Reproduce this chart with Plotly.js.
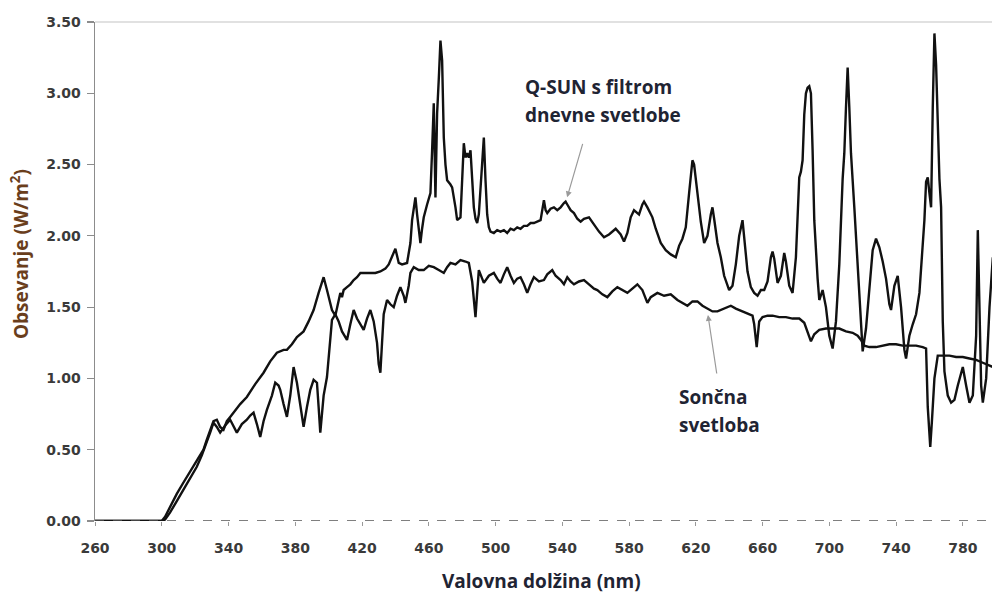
<!DOCTYPE html>
<html>
<head>
<meta charset="utf-8">
<script src="https://cdn.plot.ly/plotly-3.0.1.min.js"></script>
<style>html,body{margin:0;padding:0;background:#fff;}#chart{width:992px;height:602px;}</style>
</head>
<body>
<div id="chart"></div>
<script>
// Sunlight (Sončna svetloba)
var sunX = [260,280,298,300,302,305,309,313,315,318,321,324,327,329,331,333,335,338,341,343,345,348,351,353,355,357,359,361,363,366,368,370,371,373,375,377,379,381,382,384,385,387,389,391,393,394,395,396,397,399,401,402,404,406,408,411,413,415,417,419,421,423,425,427,429,430,431,432,433,435,437,439,441,443,445,446,448,449,451,454,457,460,463,466,469,471,473,476,479,482,484,486,487,488,489,490,492,493,496,499,501,503,505,507,509,511,513,515,517,519,521,523,526,529,531,534,536,539,541,543,545,547,550,553,556,559,561,564,567,570,573,576,579,582,585,588,591,593,597,601,605,609,612,615,618,621,624,627,630,633,637,641,644,648,651,654,655,656.5,658,660,663,666,670,674,678,682,685,687,689,691,694,698,702,706,710,714,717,719,721,724,728,732,736,740,744,748,752,756,758,759,760,760.5,761.5,763,765,768,772,776,780,784,788,792,796,798];
var sunY = [0,0,0,0,0.01,0.06,0.14,0.22,0.27,0.33,0.38,0.46,0.55,0.62,0.69,0.66,0.62,0.67,0.71,0.66,0.62,0.68,0.71,0.74,0.76,0.68,0.59,0.70,0.78,0.88,0.97,0.95,0.92,0.82,0.73,0.88,1.08,0.97,0.90,0.75,0.66,0.80,0.92,0.99,0.97,0.80,0.62,0.75,0.88,1.01,1.25,1.41,1.45,1.40,1.33,1.27,1.38,1.48,1.42,1.38,1.34,1.42,1.48,1.40,1.25,1.10,1.04,1.25,1.45,1.55,1.52,1.50,1.58,1.64,1.58,1.53,1.65,1.74,1.78,1.76,1.76,1.79,1.78,1.76,1.74,1.78,1.81,1.80,1.83,1.82,1.81,1.68,1.55,1.43,1.60,1.76,1.70,1.67,1.72,1.74,1.70,1.67,1.73,1.78,1.72,1.67,1.70,1.71,1.66,1.60,1.66,1.71,1.68,1.69,1.73,1.76,1.72,1.69,1.66,1.71,1.68,1.66,1.68,1.69,1.66,1.63,1.62,1.59,1.57,1.61,1.64,1.62,1.60,1.63,1.66,1.62,1.53,1.57,1.60,1.58,1.59,1.55,1.53,1.51,1.54,1.54,1.51,1.49,1.47,1.47,1.49,1.51,1.49,1.47,1.45,1.44,1.38,1.22,1.40,1.43,1.44,1.44,1.43,1.43,1.42,1.42,1.39,1.32,1.26,1.31,1.34,1.35,1.35,1.35,1.33,1.32,1.30,1.27,1.23,1.22,1.22,1.23,1.24,1.24,1.23,1.23,1.23,1.22,1.21,0.80,0.55,0.52,0.70,1.00,1.16,1.16,1.16,1.15,1.15,1.14,1.13,1.11,1.09,1.08];

// Q-SUN with daylight filter (Q-SUN s filtrom dnevne svetlobe)
var qsunX = [260,280,298,300,302,305,309,313,316,319,322,325,327,329,331,333,335,337,339,341,343,347,351,356,361,365,369,373,375,378,381,385,388,391,394,397,399,401,402,404,405,407,408,409,411,413,415,417,419,422,425,428,431,434,436,438,440,442,444,447,449,450,452,453,454,455,456,457,459,461,462,463,464,465,466,467,468,469,470,471,473,474,476,477,479,480,481,482,483,484,485,486,487,488,489,490,491,492,493,494,495,496,497,499,501,503,505,507,509,511,513,515,517,519,521,523,525,527,528,529,530,531,533,535,537,539,541,542,543,545,547,549,551,553,556,559,562,565,568,572,575,577,579,581,583,585,586,588,589,591,594,596,599,602,605,608,610,612,614,616,618,619,621,623,625,627,629,630,631,633,635,637,640,642,644,646,648,649,651,653,655,657,659,661,663,665,666,667,669,671,673,674,676,678,680,682,683,684,685,686,687,688,689,690,691,693,694,696,698,700,702,704,706,708,709,710,711,712,713,715,716,718,720,722,724,726,728,730,732,734,736,737,739,741,743,745,746,748,750,752,754,756,757,758,759,760,761,762,763,764,765,766,767,768,769,771,773,775,777,779,780,782,784,786,788,789,790,791,792,794,796,798];
var qsunY = [0,0,0,0,0.03,0.10,0.19,0.27,0.33,0.38,0.44,0.50,0.57,0.64,0.70,0.71,0.66,0.64,0.70,0.73,0.76,0.82,0.87,0.96,1.04,1.12,1.18,1.20,1.20,1.24,1.29,1.33,1.40,1.48,1.60,1.71,1.62,1.52,1.48,1.44,1.50,1.60,1.57,1.62,1.64,1.66,1.69,1.71,1.74,1.74,1.74,1.74,1.75,1.77,1.80,1.86,1.91,1.81,1.80,1.81,1.95,2.11,2.27,2.15,2.06,1.95,2.05,2.13,2.22,2.30,2.60,2.93,2.27,2.86,3.10,3.37,3.23,2.69,2.50,2.39,2.36,2.34,2.20,2.11,2.13,2.40,2.65,2.55,2.58,2.55,2.60,2.40,2.20,2.12,2.09,2.15,2.34,2.55,2.69,2.39,2.15,2.06,2.03,2.02,2.04,2.03,2.04,2.02,2.05,2.04,2.06,2.05,2.07,2.07,2.09,2.09,2.10,2.11,2.18,2.25,2.18,2.16,2.19,2.20,2.18,2.20,2.23,2.24,2.22,2.18,2.16,2.12,2.10,2.12,2.13,2.08,2.03,1.99,2.01,2.05,2.01,1.96,2.02,2.13,2.18,2.16,2.15,2.22,2.24,2.20,2.13,2.05,1.95,1.90,1.87,1.85,1.93,1.98,2.06,2.30,2.53,2.50,2.30,2.10,1.95,2.00,2.15,2.20,2.12,1.95,1.85,1.72,1.62,1.65,1.80,2.00,2.11,2.00,1.75,1.64,1.60,1.58,1.62,1.62,1.68,1.85,1.89,1.84,1.67,1.72,1.88,1.82,1.65,1.60,1.85,2.41,2.45,2.53,2.85,3.00,3.04,3.05,3.00,2.60,2.11,1.70,1.55,1.62,1.50,1.30,1.21,1.40,1.80,2.40,2.58,2.90,3.18,2.90,2.58,2.20,1.99,1.55,1.19,1.35,1.64,1.90,1.98,1.92,1.82,1.70,1.52,1.48,1.65,1.72,1.50,1.20,1.14,1.30,1.38,1.45,1.60,1.90,2.11,2.38,2.41,2.30,2.20,2.90,3.42,3.20,2.76,2.40,2.20,1.40,1.05,0.88,0.83,0.85,0.95,1.05,1.08,0.95,0.83,0.88,1.30,2.04,1.50,0.95,0.83,1.00,1.50,1.85];

var xTickVals = [260,300,340,380,420,460,500,540,580,620,660,700,740,780];
var yTickVals = [0,0.5,1,1.5,2,2.5,3,3.5];
var yTickText = ['0.00','0.50','1.00','1.50','2.00','2.50','3.00','3.50'];
var xTitle = 'Valovna dolžina (nm)';
var yTitle = 'Obsevanje (W/m<sup>2</sup>)';
var qsunLabel = ['Q-SUN s filtrom', 'dnevne svetlobe'];
var sunLabel = ['Sončna', 'svetloba'];

var lineStyle = {color: '#111111', width: 2.4};
var traces = [
  {x: sunX, y: sunY, mode: 'lines', line: lineStyle, name: 'Sončna svetloba', hoverinfo: 'x+y'},
  {x: qsunX, y: qsunY, mode: 'lines', line: lineStyle, name: 'Q-SUN', hoverinfo: 'x+y'}
];

var tickFont = {family: 'DejaVu Sans', size: 14, color: '#3a3a3a', weight: 'bold'};
var txtFont = {family: 'Open Sans', size: 19, color: '#1f2433', weight: 'bold'};

var layout = {
  width: 992, height: 602,
  margin: {l: 95, r: 0, t: 22, b: 81, pad: 0},
  paper_bgcolor: '#ffffff', plot_bgcolor: '#ffffff',
  showlegend: false,
  xaxis: {
    range: [260, 797.5], tickvals: xTickVals, ticks: 'outside', ticklen: 4, tickcolor: '#999999', tickwidth: 1,
    showgrid: false, zeroline: false, showline: false, tickfont: tickFont, ticklabelstandoff: 10, fixedrange: true
  },
  yaxis: {
    range: [0, 3.5], tickvals: yTickVals, ticktext: yTickText, ticks: 'outside', ticklen: 7, tickcolor: '#8c8c8c', tickwidth: 1.2,
    showgrid: false, zeroline: false, showline: true, linecolor: '#8c8c8c', linewidth: 1.5, tickfont: tickFont, ticklabelstandoff: 3, fixedrange: true
  },
  shapes: [
    {type: 'line', xref: 'paper', yref: 'paper', x0: 0, x1: 1, y0: 1, y1: 1, line: {color: '#c4c4c4', width: 1.2}},
    {type: 'line', xref: 'paper', yref: 'y', x0: 0, x1: 1, y0: 0, y1: 0, line: {color: '#555555', width: 1.5, dash: 'dash'}}
  ],
  annotations: [
    {text: xTitle, xref: 'paper', yref: 'paper', x: 0.498, y: -0.12, showarrow: false, xanchor: 'center', yanchor: 'middle', font: txtFont},
    {text: yTitle, xref: 'paper', yref: 'paper', x: -0.0836, y: 0.535, showarrow: false, textangle: -90, xanchor: 'center', yanchor: 'middle', font: {family: 'Open Sans', size: 19, color: '#6a3e1c', weight: 'bold'}},
    {text: qsunLabel[0], xref: 'paper', yref: 'paper', x: 0.4771, y: 0.8697, showarrow: false, xanchor: 'left', yanchor: 'middle', font: txtFont},
    {text: qsunLabel[1], xref: 'paper', yref: 'paper', x: 0.4771, y: 0.8136, showarrow: false, xanchor: 'left', yanchor: 'middle', font: txtFont},
    {text: sunLabel[0], xref: 'paper', yref: 'paper', x: 0.6488, y: 0.2485, showarrow: false, xanchor: 'left', yanchor: 'middle', font: txtFont},
    {text: sunLabel[1], xref: 'paper', yref: 'paper', x: 0.6488, y: 0.1924, showarrow: false, xanchor: 'left', yanchor: 'middle', font: txtFont},
    {text: '', x: 542.9, y: 2.27, xref: 'x', yref: 'y', showarrow: true, ax: 16, ay: -55, arrowhead: 2, arrowsize: 1, arrowwidth: 1.2, arrowcolor: '#9a9a9a'},
    {text: '', x: 627.3, y: 1.445, xref: 'x', yref: 'y', showarrow: true, ax: 9, ay: 60, arrowhead: 2, arrowsize: 1, arrowwidth: 1.2, arrowcolor: '#9a9a9a'}
  ]
};

Plotly.newPlot('chart', traces, layout, {displayModeBar: false, staticPlot: true});
</script>
</body>
</html>
